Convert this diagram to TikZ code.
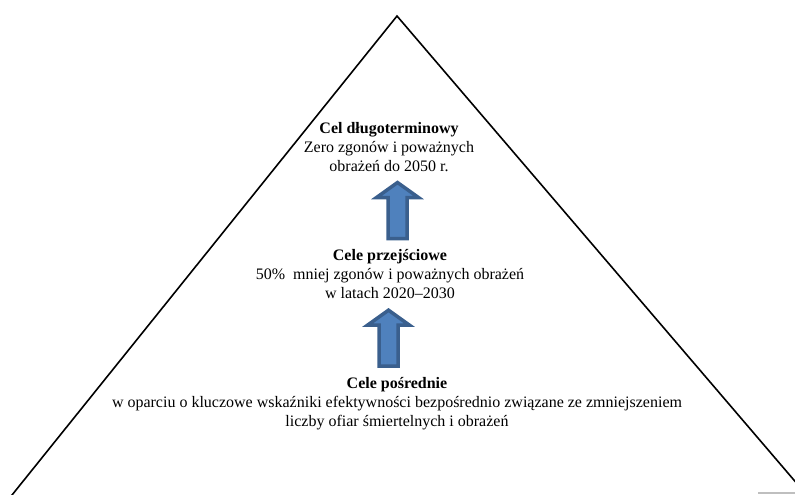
\documentclass[tikz,border=0pt]{standalone}
\usepackage{fontspec}
\setmainfont{Liberation Serif}
\usetikzlibrary{calc}

\definecolor{arrowfill}{HTML}{4F81BD}
\definecolor{arrowline}{HTML}{3A5F8D}

\begin{document}
\begin{tikzpicture}[
    x=1pt, y=-1pt,
    every node/.style={font=\fontsize{16}{19}\selectfont, align=center, inner sep=2pt},
    side/.style={line width=1.6pt, draw=black},
    blockup/.pic={
        \draw[draw=arrowline, fill=arrowfill, line width=3.5pt, line join=miter]
          (0,-28) -- (21,-13) -- (9.5,-13) -- (9.5,28) -- (-9.5,28)
          -- (-9.5,-13) -- (-21,-13) -- cycle;
    }
]

   % Frame
   \useasboundingbox (0,0) rectangle (795,495);
   \clip (0,0) rectangle (795,495);

   % Pyramid sides
   \coordinate (apex) at (397,16);
   \coordinate (baseL) at (8,500);
   \coordinate (baseR) at (811,500);
   \draw[side] (baseL) -- (apex) -- (baseR);
   \draw[gray!50, line width=1.5pt] (758,493) -- (795,493);

   % Goals
   \node (longterm) at (389,147) {\textbf{Cel długoterminowy}\\Zero zgonów i poważnych\\obrażeń do 2050 r.};
   \node (transit) at (390,274) {\textbf{Cele przejściowe}\\50\%\ \ mniej zgonów i poważnych obrażeń\\w latach 2020–2030};
   \node (interim) at (397,404) {\textbf{Cele pośrednie}\\w oparciu o kluczowe wskaźniki efektywności bezpośrednio związane ze zmniejszeniem\\liczby ofiar śmiertelnych i obrażeń};

   % Arrows between levels
   \path ($(transit.north)!0.5!(longterm.south)+(8,0)$) pic {blockup};
   \path ($(interim.north)!0.5!(transit.south)+(-5,0)$) pic {blockup};

\end{tikzpicture}
\end{document}
